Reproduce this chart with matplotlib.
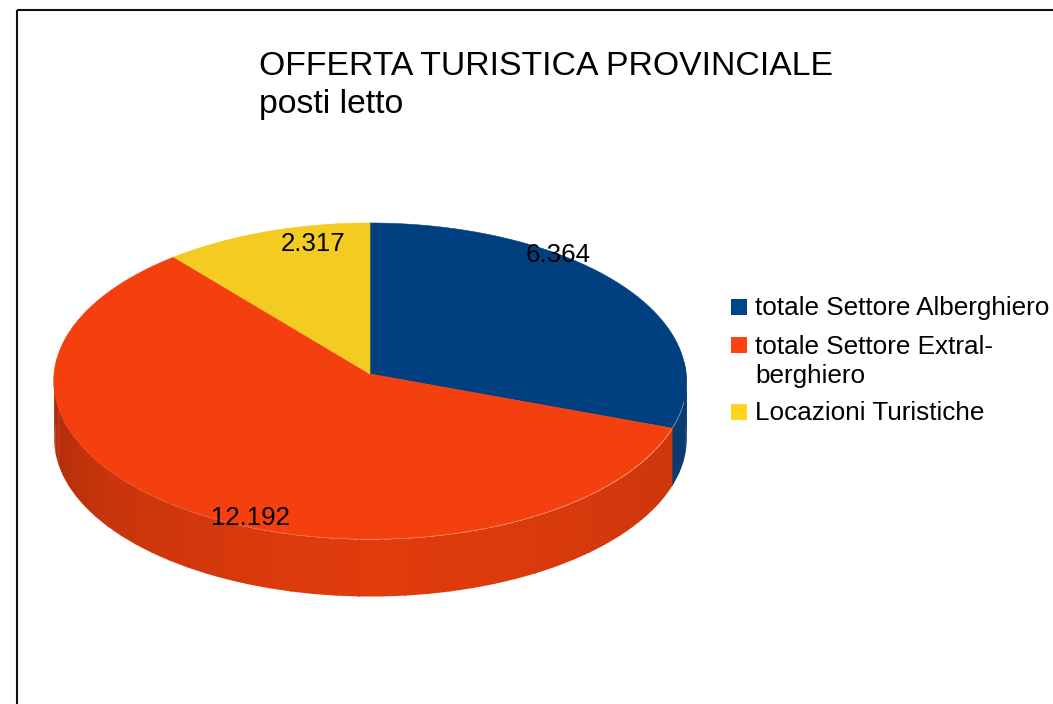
import numpy as np
import matplotlib
matplotlib.use("Agg")
import matplotlib.pyplot as plt
from matplotlib.patches import Rectangle

plt.rcParams["font.family"] = ["Liberation Sans", "DejaVu Sans"]

categories = ["totale Settore Alberghiero", "totale Settore Extral-\nberghiero", "Locazioni Turistiche"]
values = [6364, 12192, 2317]
value_labels = ["6.364", "12.192", "2.317"]
colors = ["#004080", "#F4400E", "#F4CB20"]
legend_colors = ["#004586", "#FF420E", "#FFD320"]

W, H = 1053, 704
cx, cy, rx, ry, depth, persp = 370, 374, 316, 157.7, 57, 0.0443


def project(t):
    # clockwise angle from the top to picture position, with a bit of perspective
    u, v = np.sin(t), np.cos(t)
    w = 1 + persp * v
    return cx + rx * u / w, cy - ry * v / w


fig = plt.figure(figsize=(W / 100, H / 100), dpi=100)
ax = fig.add_axes([0, 0, 1, 1])
ax.set_xlim(0, W)
ax.set_ylim(H, 0)
ax.axis("off")

edges = np.cumsum([0] + values) / sum(values) * 360

# side of the disc, thin strips so the shading follows the angle
for start, end, col in zip(edges[:-1], edges[1:], colors):
    a0, a1 = max(start, 85), min(end, 275)
    if a0 >= a1:
        continue
    steps = np.arange(a0, a1, 4.0).tolist() + [a1]
    for s0, s1 in zip(steps[:-1], steps[1:]):
        x, y = project(np.radians(np.linspace(s0, s1 + 0.4, 6)))
        if col == colors[0]:
            shade = "#0B3B70"
        else:
            mid = (s0 + s1) / 2
            r = np.interp(mid, [110, 180, 225, 270], [205, 226, 205, 172])
            g = np.interp(mid, [110, 180, 225, 270], [54, 60, 54, 44])
            shade = (r / 255, g / 255, 12 / 255)
        ax.fill_between(x, y, y + depth, color=shade, lw=0, zorder=1)

# top of the disc
for start, end, col in zip(edges[:-1], edges[1:], colors):
    x, y = project(np.radians(np.linspace(start, end, 200)))
    ax.fill(np.r_[cx, x], np.r_[cy, y], color=col, lw=0.4, zorder=3)

for (x, y), lab in zip([(558, 254), (250, 517), (313, 243)], value_labels):
    ax.text(x, y + 1, lab, fontsize=18.6, ha="center", va="center", color="black", zorder=5)

ax.text(259, 85.5, "OFFERTA TURISTICA PROVINCIALE\nposti letto", fontsize=24.3, ha="left",
        va="center", linespacing=1.32, color="black")

# legend by hand, LibreOffice style: square sits on the first line's baseline
for base, last, lab, col in zip([315, 353, 420], [315, 383, 420], categories, legend_colors):
    ax.add_patch(Rectangle((731, base - 16), 16, 16, fc=col, ec="none"))
    ax.text(755, last, lab, fontsize=18.8, ha="left", va="baseline", linespacing=1.25, color="black")

# chart frame, cut by the image on the right and bottom
ax.add_patch(Rectangle((17, 10), W + 10 - 17, 700, fill=False, ec="#111111", lw=1.5, zorder=6))

fig.savefig("out.png", dpi=100)
